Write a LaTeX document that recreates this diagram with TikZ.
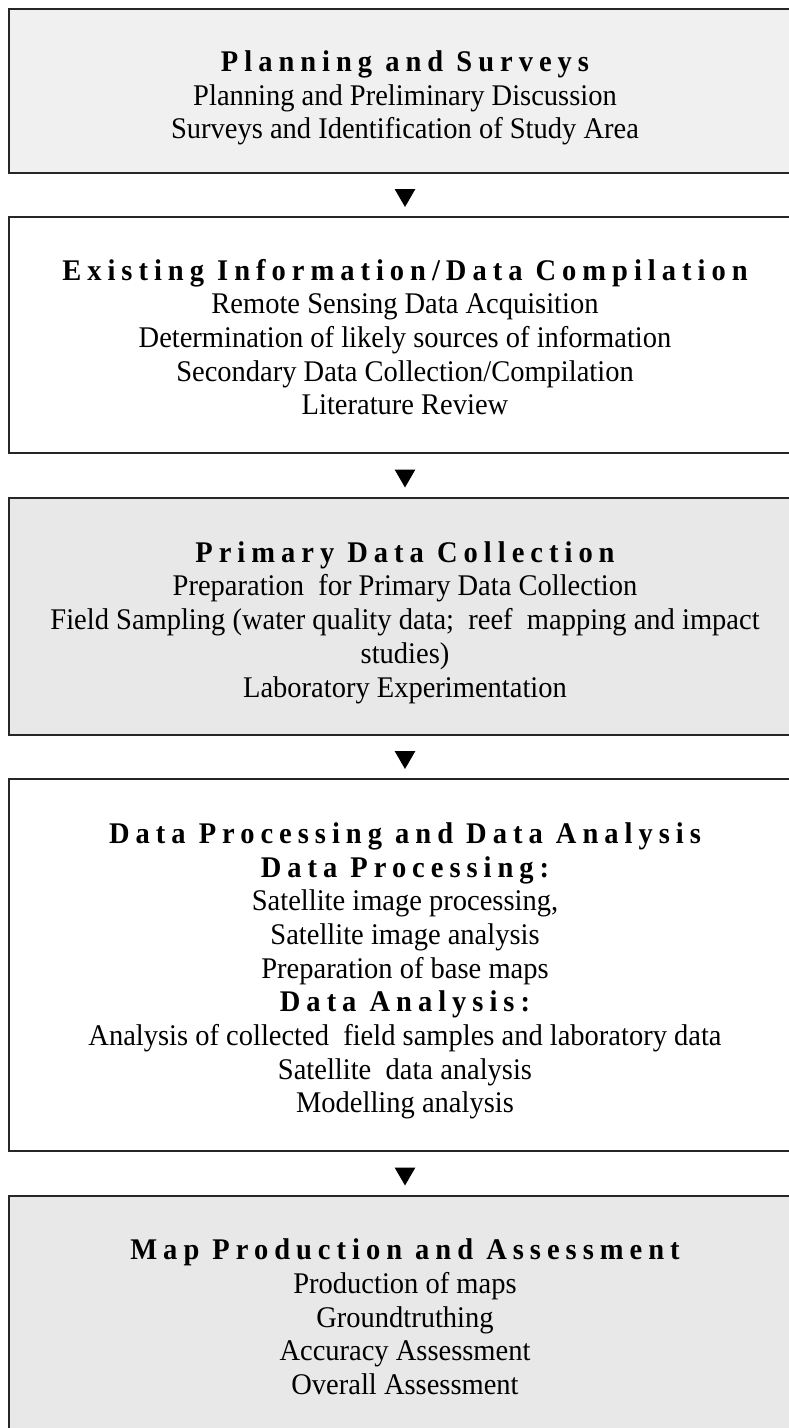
\documentclass[tikz,border=0pt]{standalone}
\usepackage{fontspec}
\setmainfont{Liberation Serif}[FakeStretch=0.95]
\newfontfamily\hdfont{Liberation Serif}[FakeStretch=0.95,LetterSpace=20]
\usetikzlibrary{shapes.geometric,calc}

\tikzset{FCbox/.style={draw=black!85,line width=2pt,minimum width=792pt,inner sep=0pt},
         FCgray/.style={FCbox,fill=black!#1},
         FCtext/.style={align=center,inner sep=0pt,font=\fontsize{30}{33.7}\selectfont},
         FCarr/.style={regular polygon,regular polygon sides=3,shape border rotate=180,
           fill=black,inner sep=0pt,minimum size=24pt}}
\newcommand{\FChd}[1]{{\hdfont\bfseries #1}}

\begin{document}
\begin{tikzpicture}[x=1pt,y=-1pt]
    \fill[white] (0,0) rectangle (789,1428);
    \useasboundingbox (0,0) rectangle (789,1428);
    \clip (0,0) rectangle (789,1428);
    % boxes
    \node[FCgray=6,minimum height=164pt] (b1) at (405,91) {};
    \node[FCbox,minimum height=236pt] (b2) at (405,335) {};
    \node[FCgray=9,minimum height=237pt] (b3) at (405,616.5) {};
    \node[FCbox,minimum height=372pt] (b4) at (405,965) {};
    \node[FCgray=9,minimum height=244pt] (b5) at (405,1318) {};
    % texts
    \node[FCtext] (t1) at ([yshift=-7pt]b1.center)
      {\FChd{Planning and Surveys}\\Planning and Preliminary Discussion\\
       Surveys and Identification of Study Area};
    \node[FCtext] (t2) at ([yshift=-2pt]b2.center)
      {\FChd{Existing Information/Data Compilation}\\Remote Sensing Data Acquisition\\
       Determination of likely sources of information\\Secondary Data Collection/Compilation\\
       Literature Review};
    \node[FCtext] (t3) at ([yshift=-6pt]b3.center)
      {\FChd{Primary Data Collection}\\Preparation~ for Primary Data Collection\\
       Field Sampling (water quality data;~ reef~ mapping and impact\\studies)\\
       Laboratory Experimentation};
    \node[FCtext] (t4) at ([yshift=-6pt]b4.center)
      {\FChd{Data Processing and Data Analysis}\\\FChd{Data Processing:}\\
       Satellite image processing,\\Satellite image analysis\\Preparation of base maps\\
       \FChd{Data Analysis:}\\Analysis of collected~ field samples and laboratory data\\
       Satellite~ data analysis\\Modelling analysis};
    \node[FCtext] (t5) at ([yshift=1pt]b5.center)
      {\FChd{Map Production and Assessment}\\Production of maps\\Groundtruthing\\
       Accuracy Assessment\\Overall Assessment};
    % arrowheads between the boxes
    \foreach \u/\l/\n in {b1/b2/a1,b2/b3/a2,b3/b4/a3,b4/b5/a4}
      \node[FCarr] (\n) at ($(\u.south)!0.5!(\l.north)$) {};
  \end{tikzpicture}
\end{document}
